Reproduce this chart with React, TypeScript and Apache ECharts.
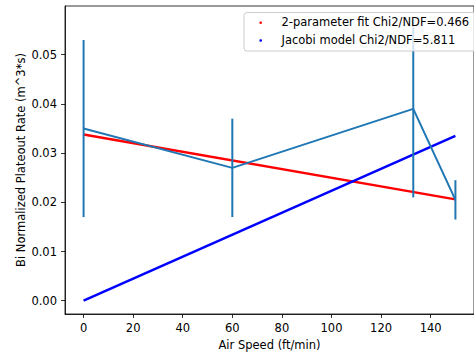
import React, { useEffect, useRef } from "react";
import * as echarts from "echarts";

const pointX = [0, 60, 133, 150];
const pointY = [0.035, 0.027, 0.039, 0.0205];
const pointErr = [0.018, 0.01, 0.018, 0.004];
const fitX = [0, 150];
const fitY = [0.0338, 0.0206];
const jacobiX = [0, 150];
const jacobiY = [0, 0.0335];
const xTicks = [0, 20, 40, 60, 80, 100, 120, 140];
const yTicks = [0, 0.01, 0.02, 0.03, 0.04, 0.05];
const legendLabels = ["2-parameter fit Chi2/NDF=0.466", "Jacobi model Chi2/NDF=5.811"];
const legendColors = ["#ff0000", "#0000ff"];
const xName = "Air Speed (ft/min)";
const yName = "Bi Normalized Plateout Rate (m^3*s)";

const FONT = "DejaVu Sans";
const FS = 11.5;

export default function App() {
  const ref = useRef<HTMLDivElement>(null);
  useEffect(() => {
    if (!ref.current) return;
    const chart = echarts.init(ref.current, null, { renderer: "svg" });
    const C0 = "#1f77b4";
    const axisCommon = {
      axisLine: { show: true, onZero: false, lineStyle: { color: "#000", width: 0.8 } },
      axisTick: { show: true, length: 4, lineStyle: { color: "#000", width: 0.8 } },
      splitLine: { show: false },
      nameMoveOverlap: false,
      nameTextStyle: { fontFamily: FONT, fontSize: FS, color: "#000" },
    };
    chart.setOption({
      animation: false,
      backgroundColor: "#fff",
      grid: {
        left: 65,
        top: 6,
        width: 418,
        height: 310.7,
        show: true,
        borderColor: "#000",
        borderWidth: 0.8,
        backgroundColor: "transparent",
      },
      xAxis: {
        type: "value",
        min: -7.5,
        max: 157.5,
        name: xName,
        nameLocation: "middle",
        nameGap: 25,
        ...axisCommon,
        axisTick: { ...axisCommon.axisTick, customValues: xTicks },
        axisLabel: {
          customValues: xTicks,
          margin: 8,
          fontFamily: FONT,
          fontSize: FS,
          color: "#000",
        },
      },
      yAxis: {
        type: "value",
        min: -0.0027,
        max: 0.0599,
        name: yName,
        nameLocation: "middle",
        nameRotate: 90,
        nameGap: 38,
        ...axisCommon,
        axisTick: { ...axisCommon.axisTick, customValues: yTicks },
        axisLabel: {
          customValues: yTicks,
          margin: 8,
          fontFamily: FONT,
          fontSize: FS,
          color: "#000",
          formatter: (v: number) => v.toFixed(2),
        },
      },
      series: [
        {
          type: "line",
          data: fitX.map((x, i) => [x, fitY[i]]),
          symbol: "none",
          lineStyle: { color: "#ff0000", width: 2.5 },
          z: 2,
        },
        {
          type: "line",
          data: jacobiX.map((x, i) => [x, jacobiY[i]]),
          symbol: "none",
          lineStyle: { color: "#0000ff", width: 2.5 },
          z: 3,
        },
        {
          type: "line",
          data: pointX.map((x, i) => [x, pointY[i]]),
          symbol: "none",
          lineStyle: { color: C0, width: 2 },
          z: 4,
        },
        {
          type: "custom",
          data: pointX.map((x, i) => [x, pointY[i] - pointErr[i], pointY[i] + pointErr[i]]),
          z: 5,
          renderItem: (params: any, api: any) => {
            const lo = api.coord([api.value(0), api.value(1)]);
            const hi = api.coord([api.value(0), api.value(2)]);
            return {
              type: "line",
              shape: { x1: lo[0], y1: lo[1], x2: hi[0], y2: hi[1] },
              style: { stroke: C0, lineWidth: 2 },
            };
          },
        },
      ],
      graphic: [
        {
          type: "rect",
          z: 100,
          shape: { x: 244, y: 12.5, width: 240, height: 38.5, r: 3 },
          style: { fill: "rgba(255,255,255,0.8)", stroke: "#cccccc", lineWidth: 1 },
        },
        ...legendLabels.flatMap((label, i) => [
          {
            type: "circle",
            z: 101,
            shape: { cx: 260.7, cy: 22.7 + i * 17.8, r: 1.3 },
            style: { fill: legendColors[i] },
          },
          {
            type: "text",
            z: 101,
            x: 281.5,
            y: 22.3 + i * 17.8,
            style: {
              text: label,
              fontFamily: FONT,
              fontSize: FS,
              fill: "#000",
              verticalAlign: "middle",
              align: "left",
            },
          },
        ]),
      ],
    });
    return () => chart.dispose();
  }, []);
  return (
    <div
      ref={ref}
      style={{ position: "fixed", left: 0, top: 0, width: 474, height: 356 }}
    />
  );
}
